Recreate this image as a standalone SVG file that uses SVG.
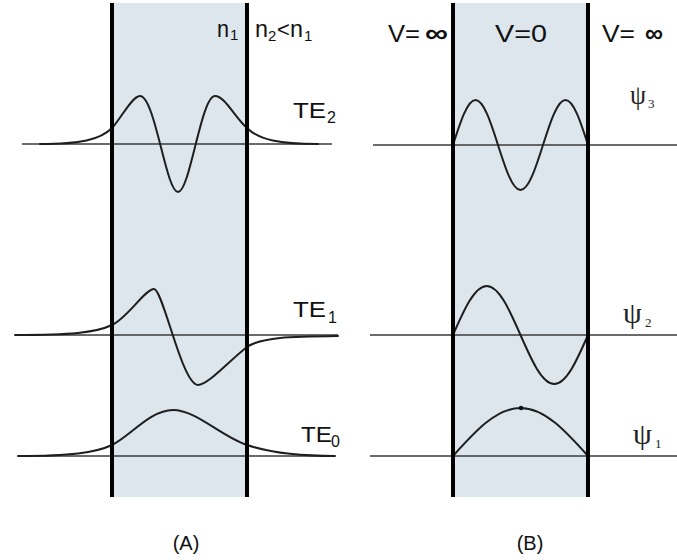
<svg xmlns="http://www.w3.org/2000/svg" width="677" height="560" viewBox="0 0 677 560">
<style>
.bg{fill:#ffffff}
.guide{fill:#dde6ed;stroke:none}
.wall{stroke:#000;stroke-width:4;fill:none}
.axis{stroke:#3a3a3a;stroke-width:1.5;fill:none}
.wave{stroke:#1e1e1e;stroke-width:2;fill:none;stroke-linejoin:round;stroke-linecap:round}
.lbl{font-family:"Liberation Sans",Arial,sans-serif;fill:#111}
.psi{font-family:"Liberation Serif","Times New Roman",serif;fill:#222}
</style>
<rect class="bg" x="0" y="0" width="677" height="560"/>

<g id="panelA">
  <rect class="guide" x="112" y="3" width="135" height="494"/>
  <g id="axesA">
    <line class="axis" x1="22" y1="144" x2="332" y2="144"/>
    <line class="axis" x1="15" y1="335" x2="338" y2="335"/>
    <line class="axis" x1="18" y1="456" x2="335" y2="456"/>
  </g>
  <g id="TE2">
    <path class="wave" d="M40,144 C80,144 100,140 112,128 C120,120 132,96 140,96 C155,96 166,192 178,192 C190,192 201,96 215,96 C225,96 235,118 247,128 C259,140 280,144 318,144"/>
    <text class="lbl" x="293" y="118" font-size="22" textLength="33" lengthAdjust="spacingAndGlyphs">TE</text>
    <text class="lbl" x="327" y="123" font-size="16">2</text>
  </g>
  <g id="TE1">
    <path class="wave" d="M15,335 C70,335 95,333 112,325 C128,317.5 145,289 154,289 C163,289 182,385 198,385 C208,385 230,360 247,347 C262,337 290,336.5 338,336"/>
    <text class="lbl" x="293" y="317" font-size="22" textLength="33" lengthAdjust="spacingAndGlyphs">TE</text>
    <text class="lbl" x="328" y="323" font-size="16">1</text>
  </g>
  <g id="TE0">
    <path class="wave" d="M18,456 C70,456 95,453 112,445 C130,436.5 150,410 173,410 C196,410 222,437 247,445 C262,450 290,456 335,456"/>
    <text class="lbl" x="301" y="442" font-size="22" textLength="31" lengthAdjust="spacingAndGlyphs">TE</text>
    <text class="lbl" x="331" y="447" font-size="16">0</text>
  </g>
  <g id="wallsA">
    <line class="wall" x1="112" y1="3" x2="112" y2="497"/>
    <line class="wall" x1="247" y1="3" x2="247" y2="497"/>
  </g>
  <g id="indexLabels">
    <text class="lbl" x="217" y="37" font-size="24" textLength="12" lengthAdjust="spacingAndGlyphs">n</text>
    <text class="lbl" x="230" y="40" font-size="15">1</text>
    <text class="lbl" x="255" y="37" font-size="24" textLength="13" lengthAdjust="spacingAndGlyphs">n</text>
    <text class="lbl" x="268" y="41" font-size="15">2</text>
    <text class="lbl" x="277" y="37" font-size="22">&lt;</text>
    <text class="lbl" x="290" y="37" font-size="24" textLength="13" lengthAdjust="spacingAndGlyphs">n</text>
    <text class="lbl" x="304" y="41" font-size="15">1</text>
  </g>
  <text id="labelA" class="lbl" x="186" y="550" font-size="20" text-anchor="middle">(A)</text>
</g>

<g id="panelB">
  <rect class="guide" x="453" y="3" width="135" height="494"/>
  <g id="axesB">
    <line class="axis" x1="373" y1="145" x2="677" y2="145"/>
    <line class="axis" x1="370" y1="335" x2="677" y2="335"/>
    <line class="axis" x1="370" y1="456" x2="677" y2="456"/>
  </g>
  <g id="psi3">
    <path class="wave" d="M453,145 C460.34,121.95 467.4,100 475.5,100 C483.6,100 490.66,121.95 498,145 C505.34,168.05 512.4,190 520.5,190 C528.6,190 535.66,168.05 543,145 C550.34,121.95 557.4,100 565.5,100 C573.6,100 580.66,121.95 588,145"/>
    <text class="psi" x="630" y="104" font-size="28" textLength="16" lengthAdjust="spacingAndGlyphs">ψ</text>
    <text class="psi" x="648" y="108" font-size="13">3</text>
  </g>
  <g id="psi2">
    <path class="wave" d="M453,335 C464.01,309.9 474.59,286 486.75,286 C498.91,286 509.49,309.9 520.5,335 C531.51,360.1 542.09,384 554.25,384 C566.41,384 576.99,360.1 588,335"/>
    <text class="psi" x="623" y="323" font-size="30">ψ</text>
    <text class="psi" x="645" y="327" font-size="13">2</text>
  </g>
  <g id="psi1">
    <path class="wave" d="M453,456 C475.01,431.41 496.19,408 520.5,408 C544.81,408 565.99,431.41 588,456"/>
    <circle cx="521" cy="408" r="2.3" fill="#111"/>
    <text class="psi" x="633" y="444" font-size="30">ψ</text>
    <text class="psi" x="655" y="448" font-size="13">1</text>
  </g>
  <g id="wallsB">
    <line class="wall" x1="453" y1="3" x2="453" y2="497"/>
    <line class="wall" x1="588" y1="3" x2="588" y2="497"/>
  </g>
  <g id="potentialLabels">
    <text class="lbl" x="388" y="42" font-size="23" textLength="32" lengthAdjust="spacingAndGlyphs">V=</text>
    <text class="lbl" x="425" y="42" font-size="26" font-weight="bold" textLength="23" lengthAdjust="spacingAndGlyphs">∞</text>
    <text class="lbl" x="495" y="42" font-size="23" textLength="52" lengthAdjust="spacingAndGlyphs">V=0</text>
    <text class="lbl" x="602" y="42" font-size="23" textLength="33" lengthAdjust="spacingAndGlyphs">V=</text>
    <text class="lbl" x="645" y="42" font-size="26" font-weight="bold" textLength="18" lengthAdjust="spacingAndGlyphs">∞</text>
  </g>
  <text id="labelB" class="lbl" x="530" y="550" font-size="20" text-anchor="middle">(B)</text>
</g>
</svg>
